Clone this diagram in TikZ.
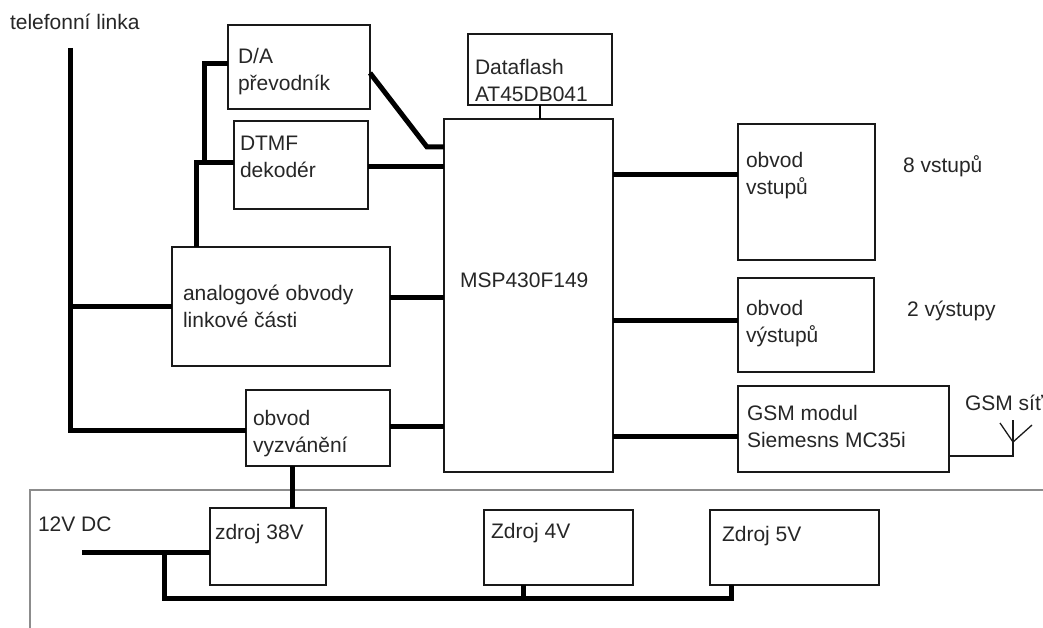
\documentclass[tikz,border=0pt]{standalone}
\usepackage{fontspec}
\setmainfont{Liberation Sans}
\tikzset{
  blockbox/.style={draw=black!90,line width=1.3pt,fill=none,inner sep=0pt,outer sep=0pt},
  lbl/.style={inner sep=0pt,outer sep=0pt,anchor=base west,align=left,font=\fontsize{21}{27}\selectfont,text=black!85},
  bus/.style={line width=5pt,black,line cap=butt,line join=miter},
  thinwire/.style={line width=1.3pt,black!90},
  framel/.style={line width=1.3pt,black!45}
}
\newcommand{\blk}[5]{\node[blockbox,anchor=north west,minimum width=#4pt-#2pt,minimum height=#5pt-#3pt] (#1) at (#2,#3) {};}
\begin{document}
\begin{tikzpicture}[x=1pt,y=-1pt]
\useasboundingbox (0,0) rectangle (1043,628);
% frame
\coordinate (f1) at (30,628);
\coordinate (f2) at (30,490);
\coordinate (f3) at (1043,490);
\draw[framel] (f1) -- (f2) -- (f3);
% blocks
\blk{da}{228}{25}{370}{109}
\blk{dtmf}{234}{121}{368}{209}
\blk{analog}{172}{247}{390}{366}
\blk{ring}{246}{390}{390}{466}
\blk{zd38}{210}{508}{326}{585}
\blk{zd4}{484}{510}{633}{585}
\blk{zd5}{710}{510}{879}{585}
\blk{msp}{444}{119}{613}{472}
\blk{flash}{468}{34}{612}{105}
\blk{vst}{738}{124}{875}{260}
\blk{vyst}{738}{278}{874}{372}
\blk{gsm}{738}{386}{949}{472}
% labels
\node[lbl] (t0) at (10,30) {telefonní linka};
\node[lbl] (t1) at (238,91) {D/A\\převodník};
\node[lbl] (t2) at (240,178) {DTMF\\dekodér};
\node[lbl] (t3) at (183,327) {analogové obvody\\linkové části};
\node[lbl] (t4) at (253,452) {obvod\\vyzvánění};
\node[lbl] (t5) at (38,531) {12V DC};
\node[lbl] (t6) at (215,539) {zdroj 38V};
\node[lbl] (t7) at (491,538) {Zdroj 4V};
\node[lbl] (t8) at (722,541) {Zdroj 5V};
\node[lbl] (t9) at (460,287) {MSP430F149};
\node[lbl] (t10) at (475,102) {Dataflash\\AT45DB041};
\node[lbl] (t11) at (746,195) {obvod\\vstupů};
\node[lbl] (t12) at (746,342) {obvod\\výstupů};
\node[lbl] (t13) at (747,447) {GSM modul\\Siemesns MC35i};
\node[lbl] (t14) at (903,173) {8 vstupů};
\node[lbl] (t15) at (907,316) {2 výstupy};
\node[lbl] (t16) at (965,410) {GSM síť};
% telephone line
\coordinate (tl) at (70,48);
\coordinate (tc) at (70,430);
\coordinate (ta) at (70,306);
\draw[bus] (tl) -- (tc) -- (ring.west |- tc);
\draw[bus] (ta) -- (analog.west |- ta);
% analog to D/A and DTMF
\coordinate (a1) at (196,247);
\coordinate (a2) at (196,163);
\coordinate (a3) at (204,163);
\coordinate (a4) at (204,64);
\draw[bus] (a1) -- (a2) -- (dtmf.west |- a2);
\draw[bus] (a3) -- (a4) -- (da.west |- a4);
% to MSP
\coordinate (d1) at (370,73);
\coordinate (d2) at (427,147);
\draw[bus] (d1) -- (d2) -- (msp.west |- d2);
\coordinate (d3) at (368,167);
\draw[bus] (dtmf.east |- d3) -- (msp.west |- d3);
\coordinate (d4) at (390,297);
\draw[bus] (analog.east |- d4) -- (msp.west |- d4);
\coordinate (d5) at (390,426);
\draw[bus] (ring.east |- d5) -- (msp.west |- d5);
\coordinate (d6) at (540,105);
\draw[line width=2.5pt] (flash.south -| d6) -- (msp.north -| d6);
% right side
\coordinate (r1) at (613,175);
\draw[bus] (msp.east |- r1) -- (vst.west |- r1);
\coordinate (r2) at (613,320);
\draw[bus] (msp.east |- r2) -- (vyst.west |- r2);
\coordinate (r3) at (613,436);
\draw[bus] (msp.east |- r3) -- (gsm.west |- r3);
% ringing to 38 V
\coordinate (z0) at (292,466);
\draw[bus] (ring.south -| z0) -- (zd38.north -| z0);
% power bus
\coordinate (p0) at (82,552);
\coordinate (p1) at (164,552);
\coordinate (p2) at (164,598);
\coordinate (p3) at (731,598);
\coordinate (p4) at (523,598);
\draw[bus] (p0) -- (zd38.west |- p0);
\draw[bus] (p1) -- (p2) -- (p3) -- (zd5.south -| p3);
\draw[bus] (p4) -- (zd4.south -| p4);
% antenna
\coordinate (an1) at (1013,456);
\coordinate (an2) at (1013,420);
\coordinate (an3) at (1013,442);
\coordinate (an4) at (1000,423);
\coordinate (an5) at (1032,425);
\draw[thinwire] (gsm.east |- an1) -- (an1) -- (an2);
\draw[thinwire] (an4) -- (an3) -- (an5);
\end{tikzpicture}
\end{document}
